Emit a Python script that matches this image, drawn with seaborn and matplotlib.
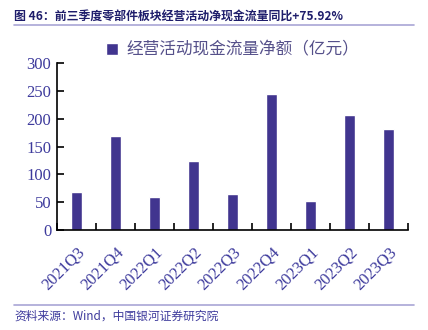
import matplotlib
matplotlib.use("Agg")
import matplotlib.pyplot as plt
import seaborn as sns
import pandas as pd
import numpy as np

quarters = ["2021Q3", "2021Q4", "2022Q1", "2022Q2", "2022Q3",
            "2022Q4", "2023Q1", "2023Q2", "2023Q3"]
net_cash_flow = [69, 169, 59, 124, 64, 244, 52, 206, 181]
y_ticks = [0, 50, 100, 150, 200, 250, 300]

title_text = "图 46：前三季度零部件板块经营活动净现金流量同比+75.92%"
legend_text = "经营活动现金流量净额（亿元）"
source_text = "资料来源：Wind，中国银河证券研究院"

sns.set_theme(style="ticks")
plt.rcParams["font.family"] = ["Noto Sans CJK SC", "DejaVu Sans"]

bar_color = "#41358f"
label_color = "#3d3a9c"
serif = ["Liberation Serif", "DejaVu Serif"]

df = pd.DataFrame({"quarter": quarters, "value": net_cash_flow})

fig = plt.figure(figsize=(4.28, 3.30), dpi=100)
ax = fig.add_axes([0.133, 0.303, 0.820, 0.506])

sns.barplot(data=df, x="quarter", y="value", color=bar_color,
            width=0.3, saturation=1, ax=ax, label=legend_text)

ax.set_xlim(-0.5, len(quarters) - 0.5)
ax.set_ylim(0, 300)
ax.set_yticks(y_ticks)
ax.set_yticklabels([str(t) for t in y_ticks])
ax.set_xticks(range(len(quarters)))
ax.set_xticklabels(quarters, rotation=45, ha="right", rotation_mode="anchor")
for lab in ax.get_yticklabels():
    lab.set_fontfamily(serif)
    lab.set_fontsize(12)
    lab.set_color(label_color)
for lab in ax.get_xticklabels():
    lab.set_fontfamily(serif)
    lab.set_fontsize(12)
    lab.set_color(label_color)
ax.tick_params(axis="x", which="major", length=0, pad=10)
ax.set_xticks(np.arange(-0.5, len(quarters), 1.0), minor=True)
ax.tick_params(axis="x", which="minor", direction="in", length=5,
               width=1.2, color="black")
ax.tick_params(axis="y", direction="in", length=5, width=1.2,
               color="black", pad=4)
ax.set_xlabel("")
ax.set_ylabel("")
for side in ["top", "right"]:
    ax.spines[side].set_visible(False)
for side in ["left", "bottom"]:
    ax.spines[side].set_color("black")
    ax.spines[side].set_linewidth(1.2)

leg = ax.legend(loc="lower center", bbox_to_anchor=(0.5, 0.985), frameon=False,
                fontsize=12, handlelength=0.7, handleheight=0.7,
                handletextpad=0.5, borderaxespad=0.0)
for t in leg.get_texts():
    t.set_color("#55508a")

fig.text(0.033, 0.952, title_text, fontsize=8.6, fontweight="bold",
         color="#1e1d6b", va="center", ha="left")
fig.add_artist(plt.Line2D([0.033, 0.967], [0.924, 0.924],
                          color="#a9a6d6", linewidth=1.2))
fig.add_artist(plt.Line2D([0.033, 0.967], [0.075, 0.075],
                          color="#a9a6d6", linewidth=1.2))
fig.text(0.033, 0.042, source_text, fontsize=8.5, style="italic",
         color="#3d3a9c", va="center", ha="left")

fig.savefig("out.png", dpi=100)
